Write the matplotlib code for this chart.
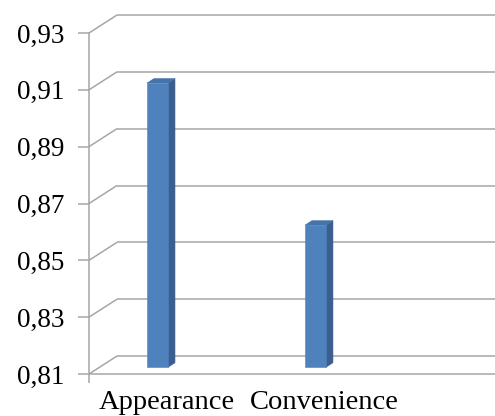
import matplotlib
matplotlib.use("Agg")
import matplotlib.pyplot as plt
from matplotlib.patches import Polygon
from matplotlib.ticker import FixedLocator

# data
categories = ["Appearance", "Convenience"]
values = [0.91, 0.86]
y_ticks = [0.81, 0.83, 0.85, 0.87, 0.89, 0.91, 0.93]
y_tick_labels = ["0,81", "0,83", "0,85", "0,87", "0,89", "0,91", "0,93"]

W, H, DPI = 495, 416, 100
fig = plt.figure(figsize=(W / DPI, H / DPI), dpi=DPI)
fig.patch.set_facecolor("white")

# front plane of the chart box (figure pixels)
left_px, right_px, bottom_px, top_px = 89, 495, 374, 33
ax = fig.add_axes([left_px / W, 1 - bottom_px / H,
                   (right_px - left_px) / W, (bottom_px - top_px) / H])
ax.set_facecolor("none")

YMIN, YMAX = 0.81, 0.93
XMIN, XMAX = -0.367, 2.203
ax.set_ylim(YMIN, YMAX)
ax.set_xlim(XMIN, XMAX)

# oblique depth projection: full depth shifts right and up
px_per_x = (right_px - left_px) / (XMAX - XMIN)
px_per_y = (bottom_px - top_px) / (YMAX - YMIN)
DX = 28 / px_per_x
DY = 18 / px_per_y


def proj(x, y, d):
    return (x + d * DX, y + d * DY)


grid_col = "#a6a6a6"
lw = 1.1

# walls: diagonal lines on the side wall and horizontal lines on the back wall
for t in y_ticks:
    x0, y0 = proj(XMIN, t, 0)
    x1, y1 = proj(XMIN, t, 1)
    ax.plot([x0, x1], [y0, y1], color=grid_col, lw=lw, clip_on=False,
            solid_capstyle="butt", zorder=1)
    ax.plot([x1, XMAX + 1], [y1, y1], color=grid_col, lw=lw, clip_on=False,
            solid_capstyle="butt", zorder=1)

# bars
bar_w = 21 / px_per_x
d_front, d_back = 0.375, 0.625
front_col, side_col, top_col = "#4f81bd", "#3a5f8e", "#4674aa"
for i, v in enumerate(values):
    xl, xr = i - bar_w / 2, i + bar_w / 2
    front = [proj(xl, YMIN, d_front), proj(xr, YMIN, d_front),
             proj(xr, v, d_front), proj(xl, v, d_front)]
    side = [proj(xr, YMIN, d_front), proj(xr, YMIN, d_back),
            proj(xr, v, d_back), proj(xr, v, d_front)]
    top = [proj(xl, v, d_front), proj(xr, v, d_front),
           proj(xr, v, d_back), proj(xl, v, d_back)]
    for pts, c in ((side, side_col), (top, top_col), (front, front_col)):
        ax.add_patch(Polygon(pts, closed=True, facecolor=c, edgecolor=c,
                             lw=0.4, clip_on=False, zorder=3))

# axes styling
for s in ("top", "right"):
    ax.spines[s].set_visible(False)
for s in ("left", "bottom"):
    ax.spines[s].set_color(grid_col)
    ax.spines[s].set_linewidth(lw)
    ax.spines[s].set_zorder(2)

serif = ["Liberation Serif", "DejaVu Serif"]
ax.set_yticks(y_ticks)
ax.set_yticklabels(y_tick_labels, fontsize=19.5, family=serif)
ax.tick_params(axis="y", length=8, width=lw, color=grid_col, pad=10)

label_shift = 0.125
ax.set_xticks([i + label_shift for i in range(len(categories))])
ax.set_xticklabels(categories, fontsize=20.5, family=serif)
ax.tick_params(axis="x", length=0, pad=11.5)
ax.xaxis.set_minor_locator(FixedLocator([XMIN]))
ax.tick_params(axis="x", which="minor", length=6.5, width=lw, color=grid_col)

fig.savefig("out.png", dpi=DPI, facecolor="white")
